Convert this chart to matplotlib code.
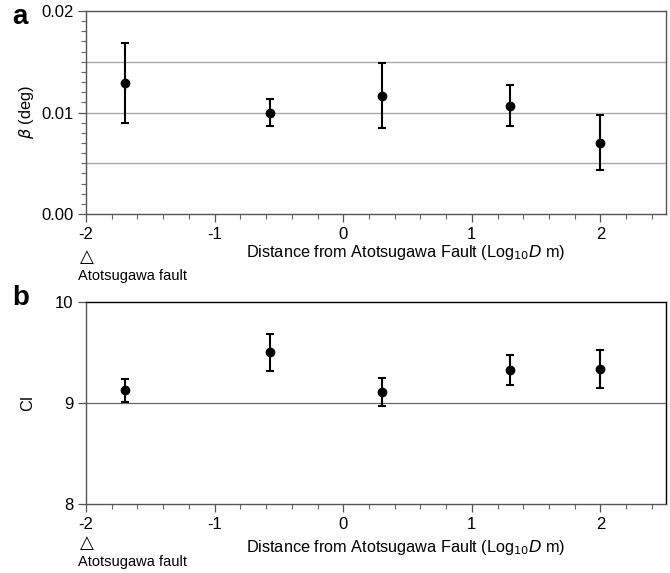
import matplotlib

matplotlib.use("Agg")
import matplotlib.pyplot as plt
from matplotlib.ticker import FormatStrFormatter, MultipleLocator, NullLocator

plt.rcParams["font.family"] = ["Liberation Sans", "DejaVu Sans"]
plt.rcParams["axes.unicode_minus"] = False

# log10 of distance from the fault (m)
log_distance = [-1.70, -0.57, 0.30, 1.30, 2.00]

beta = [0.01294, 0.00998, 0.01166, 0.01067, 0.00703]
beta_upper = [0.01688, 0.01133, 0.01485, 0.01268, 0.00975]
beta_lower = [0.00894, 0.00867, 0.00844, 0.00867, 0.00433]

ci = [9.128, 9.50, 9.109, 9.33, 9.34]
ci_upper = [9.237, 9.678, 9.25, 9.478, 9.527]
ci_lower = [9.01, 9.32, 8.967, 9.175, 9.148]

XLABEL = "Distance from Atotsugawa Fault (Log$_{10}$$\\mathit{D}$ m)"
SPINE = "#555555"


def style_axis(ax, label_y, marker_y, fault_y):
    ax.set_xlim(-2, 2.51)
    ax.xaxis.set_major_locator(MultipleLocator(1))
    ax.xaxis.set_minor_locator(MultipleLocator(0.2))
    ax.tick_params(axis="both", which="major", length=6, width=0.9, labelsize=12,
                   color=SPINE, pad=3)
    ax.tick_params(axis="both", which="minor", length=3.5, width=0.8, color="#666666")
    for side in ax.spines.values():
        side.set_color(SPINE)
        side.set_linewidth(1.0)
    ax.set_xlabel(XLABEL, fontsize=11.7)
    ax.xaxis.label.set_verticalalignment("center")
    ax.xaxis.set_label_coords(0.552, label_y)
    # fault marker under the x = -2 tick
    ax.text(0.001, marker_y, "\u25b3", transform=ax.transAxes, ha="center", va="center",
            fontsize=13, family=["DejaVu Sans"])
    ax.text(-0.013, fault_y, "Atotsugawa fault", transform=ax.transAxes, ha="left",
            va="center", fontsize=10.5)


def errorbars(ax, y, upper, lower):
    yerr = [[v - lo for v, lo in zip(y, lower)], [hi - v for v, hi in zip(y, upper)]]
    ax.errorbar(log_distance, y, yerr=yerr, fmt="o", color="black", ms=6,
                elinewidth=1.5, capsize=3, capthick=1.5, zorder=5)


fig = plt.figure(figsize=(6.7, 5.73), dpi=100)

ax_a = fig.add_axes([0.1284, 0.6265, 0.8657, 0.3543])
for level in (0.005, 0.01, 0.015):
    ax_a.axhline(level, color="#aaaaaa", linewidth=1.0, zorder=1)
errorbars(ax_a, beta, beta_upper, beta_lower)
ax_a.set_ylim(0, 0.02)
ax_a.yaxis.set_major_locator(MultipleLocator(0.01))
ax_a.yaxis.set_minor_locator(MultipleLocator(0.001))
ax_a.yaxis.set_major_formatter(FormatStrFormatter("%.2f"))
style_axis(ax_a, -0.191, -0.214, -0.304)
ax_a.set_ylabel("$\\mathit{\\beta}$ (deg)", fontsize=11.7, labelpad=4)
fig.text(0.018, 0.97, "a", fontsize=20, fontweight="bold", va="center")

ax_b = fig.add_axes([0.1284, 0.1199, 0.8657, 0.3536])
ax_b.axhline(9, color="#666666", linewidth=0.9, zorder=1)
errorbars(ax_b, ci, ci_upper, ci_lower)
ax_b.set_ylim(8, 10)
ax_b.yaxis.set_major_locator(MultipleLocator(1))
ax_b.yaxis.set_minor_locator(NullLocator())
style_axis(ax_b, -0.212, -0.193, -0.286)
ax_b.spines["top"].set_color("black")
ax_b.spines["right"].set_color("black")
ax_b.set_ylabel("CI", fontsize=11.7, labelpad=14)
fig.text(0.018, 0.48, "b", fontsize=20, fontweight="bold", va="center")

fig.savefig("out.png", dpi=100)
